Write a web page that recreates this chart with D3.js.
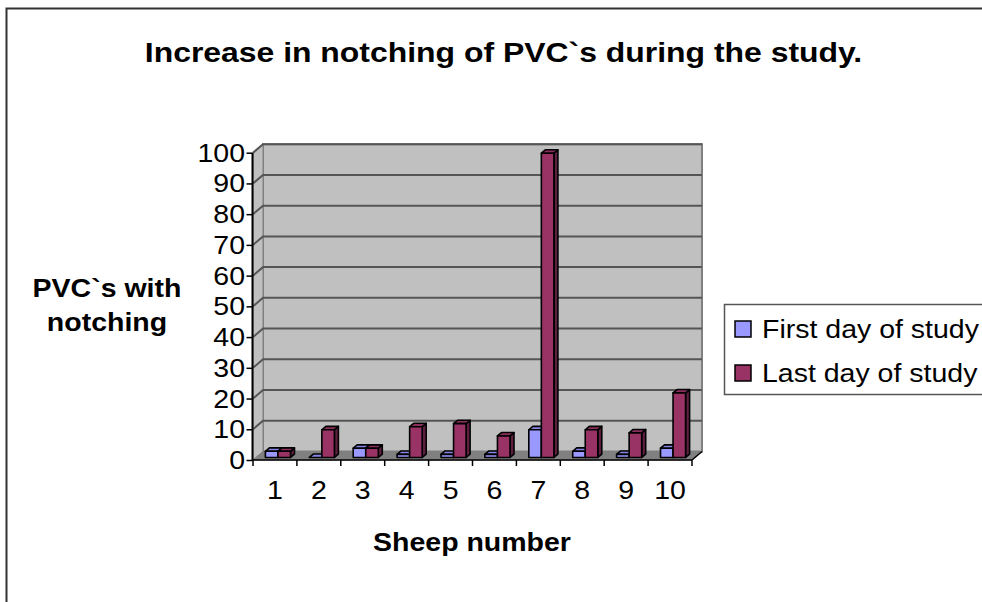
<!DOCTYPE html>
<html lang="en">
    <head>
        <meta charset="utf-8">
        <title>Increase in notching of PVC`s during the study.</title>

        <script src="https://d3js.org/d3.v7.min.js"></script>

        <style>
            body {
                margin: 0;
                background-color: #FFFFFF;
            }

            svg {
                display: block;
                font-family: "Liberation Sans", Arial, sans-serif;
            }
        </style>
    </head>
    <body>
        <svg id="chart" width="982" height="602"></svg>

        <script>
            //data
            const sheep = ["1", "2", "3", "4", "5", "6", "7", "8", "9", "10"];
            const seriesNames = ["First day of study", "Last day of study"];
            const firstDay = [2, 0, 3, 1, 1, 1, 9, 2, 1, 3];
            const lastDay = [2, 9, 3, 10, 11, 7, 99, 9, 8, 21];
            const yTicks = [0, 10, 20, 30, 40, 50, 60, 70, 80, 90, 100];

            const colors = ["#9999FF", "#993366"];
            const sideColors = ["#6666B3", "#5E1F40"];
            const topColors = ["#8585E6", "#8A2E5C"];

            //text in the original is a bit wider than it is tall
            const stretch = 1.14;

            //chart geometry (front plane + depth offset)
            const x0 = 253, x1 = 692;
            const depthX = 10, depthY = -8.5;

            const svg = d3.select("#chart");

            //helper for stretched text
            function label(parent, x, y, txt, size, anchor, bold) {
                return parent.append("text")
                    .attr("transform", `translate(${x}, ${y}) scale(${stretch}, 1)`)
                    .attr("text-anchor", anchor)
                    .attr("font-size", size)
                    .attr("font-weight", bold ? "bold" : "normal")
                    .attr("fill", "#000000")
                    .text(txt);
            }

            //outer border
            svg.append("rect")
                .attr("x", 6.5).attr("y", 8.5)
                .attr("width", 1000).attr("height", 700)
                .attr("fill", "#FFFFFF")
                .attr("stroke", "#333333")
                .attr("stroke-width", 2);

            //scales
            const xScale = d3.scaleBand()
                .domain(sheep)
                .range([x0, x1])
                .paddingInner(0)
                .paddingOuter(0);

            const yScale = d3.scaleLinear()
                .domain([0, 100])
                .range([460, 152.7]);

            const bandW = xScale.bandwidth();
            const barW = bandW / 3.5;

            //back wall
            const wall = svg.append("g");
            wall.append("rect")
                .attr("x", x0 + depthX)
                .attr("y", yScale(100) + depthY)
                .attr("width", x1 - x0)
                .attr("height", yScale(0) - yScale(100))
                .attr("fill", "#C0C0C0")
                .attr("stroke", "#808080")
                .attr("stroke-width", 2);

            //side wall
            const p = (x, y) => `${x},${y}`;
            wall.append("polygon")
                .attr("points", [
                    p(x0, yScale(0)), p(x0 + depthX, yScale(0) + depthY),
                    p(x0 + depthX, yScale(100) + depthY), p(x0, yScale(100))
                ].join(" "))
                .attr("fill", "#C0C0C0")
                .attr("stroke", "#808080")
                .attr("stroke-width", 1);

            //floor
            wall.append("polygon")
                .attr("points", [
                    p(x0, yScale(0)), p(x1, yScale(0)),
                    p(x1 + depthX, yScale(0) + depthY), p(x0 + depthX, yScale(0) + depthY)
                ].join(" "))
                .attr("fill", "#808080")
                .attr("stroke", "#808080")
                .attr("stroke-width", 1);

            //gridlines
            wall.selectAll(".grid")
                .data(yTicks.filter(d => d > 0))
                .enter()
                .append("polyline")
                .attr("points", d => [
                    p(x0, yScale(d)),
                    p(x0 + depthX, yScale(d) + depthY),
                    p(x1 + depthX, yScale(d) + depthY)
                ].join(" "))
                .attr("fill", "none")
                .attr("stroke", "#555555")
                .attr("stroke-width", 2);

            //bars
            const barDepthStart = 0.3, barDepthEnd = 0.7;
            const bars = [];
            sheep.forEach((s, i) => {
                [firstDay[i], lastDay[i]].forEach((v, k) => {
                    bars.push({ s, v, k });
                });
            });

            const barG = svg.append("g");
            bars.forEach(b => {
                const fx = xScale(b.s) + barW * 0.75 + b.k * barW + depthX * barDepthStart;
                const fyTop = yScale(b.v) + depthY * barDepthStart;
                const fyBot = yScale(0) + depthY * barDepthStart;
                const dx = depthX * (barDepthEnd - barDepthStart);
                const dy = depthY * (barDepthEnd - barDepthStart);

                const g = barG.append("g")
                    .attr("stroke", "#000000")
                    .attr("stroke-width", 1.6)
                    .attr("stroke-linejoin", "round");

                //right side
                g.append("polygon")
                    .attr("points", [
                        p(fx + barW, fyBot), p(fx + barW + dx, fyBot + dy),
                        p(fx + barW + dx, fyTop + dy), p(fx + barW, fyTop)
                    ].join(" "))
                    .attr("fill", sideColors[b.k]);

                //top
                g.append("polygon")
                    .attr("points", [
                        p(fx, fyTop), p(fx + barW, fyTop),
                        p(fx + barW + dx, fyTop + dy), p(fx + dx, fyTop + dy)
                    ].join(" "))
                    .attr("fill", topColors[b.k]);

                //front
                g.append("rect")
                    .attr("x", fx)
                    .attr("y", fyTop)
                    .attr("width", barW)
                    .attr("height", fyBot - fyTop)
                    .attr("fill", colors[b.k]);
            });

            //y axis
            const yAxis = d3.axisLeft(yScale)
                .tickValues(yTicks)
                .tickSize(6)
                .tickFormat("");

            const yAxisG = svg.append("g")
                .attr("transform", `translate(${x0 - 0.5}, 0)`)
                .call(yAxis);
            yAxisG.select(".domain")
                .attr("d", `M0,${yScale(100)}V${yScale(0)}`)
                .attr("stroke", "#000000")
                .attr("stroke-width", 2);
            yAxisG.selectAll(".tick line")
                .attr("stroke", "#000000")
                .attr("stroke-width", 1.5);

            yTicks.forEach(t => {
                label(svg, 245, yScale(t) + 9, String(t), 25, "end", false);
            });

            //x axis
            const xAxisG = svg.append("g")
                .attr("transform", `translate(0, ${yScale(0)})`);
            xAxisG.append("line")
                .attr("x1", x0 - 1).attr("x2", x1)
                .attr("y1", 0).attr("y2", 0)
                .attr("stroke", "#000000")
                .attr("stroke-width", 1.5);
            xAxisG.append("line")
                .attr("x1", x1).attr("x2", x1 + depthX)
                .attr("y1", 0).attr("y2", depthY)
                .attr("stroke", "#000000")
                .attr("stroke-width", 1.5);
            xAxisG.selectAll(".xtick")
                .data(sheep.concat(["end"]))
                .enter()
                .append("line")
                .attr("x1", (d, i) => x0 + i * bandW)
                .attr("x2", (d, i) => x0 + i * bandW)
                .attr("y1", 0).attr("y2", 6)
                .attr("stroke", "#000000")
                .attr("stroke-width", 1.5);

            sheep.forEach(s => {
                label(svg, xScale(s) + bandW / 2, 499, s, 25, "middle", false);
            });

            //titles
            label(svg, 503.5, 62, "Increase in notching of PVC`s during the study.", 28, "middle", true);
            label(svg, 107, 297, "PVC`s with", 25, "middle", true);
            label(svg, 107, 331, "notching", 25, "middle", true);
            label(svg, 472, 551, "Sheep number", 25, "middle", true);

            //legend
            const legend = svg.append("g");
            legend.append("rect")
                .attr("x", 724.5).attr("y", 304.5)
                .attr("width", 400).attr("height", 90)
                .attr("fill", "#FFFFFF")
                .attr("stroke", "#555555")
                .attr("stroke-width", 1.5);

            seriesNames.forEach((name, i) => {
                legend.append("rect")
                    .attr("x", 735).attr("y", 321 + i * 44)
                    .attr("width", 16).attr("height", 16)
                    .attr("fill", colors[i])
                    .attr("stroke", "#000000")
                    .attr("stroke-width", 1.5);
                label(legend, 762, 338 + i * 44, name, 25, "start", false);
            });
        </script>
    </body>
</html>
